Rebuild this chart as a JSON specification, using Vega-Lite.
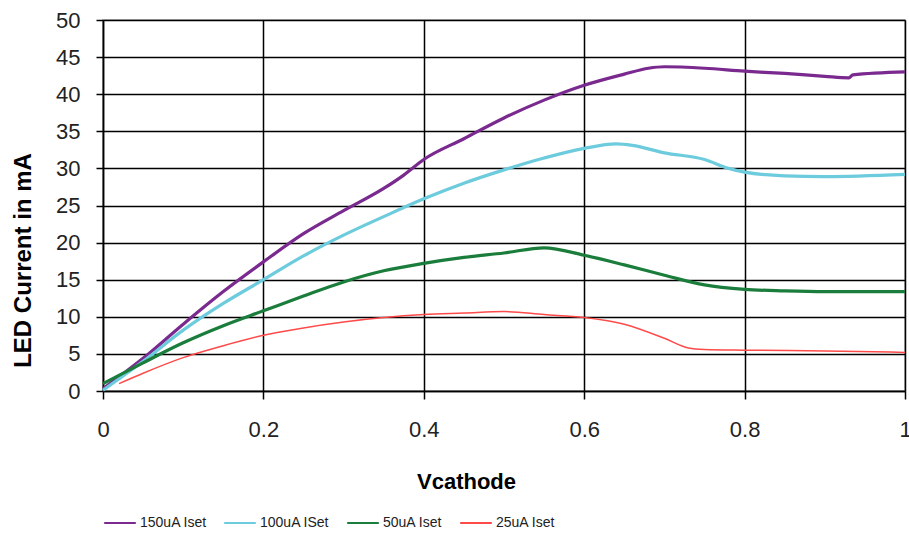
{
  "$schema": "https://vega.github.io/schema/vega-lite/v6.json",
  "width": 802,
  "height": 371,
  "autosize": {"type": "none"},
  "padding": {"left": 103, "top": 20, "right": 4, "bottom": 144},
  "background": "white",
  "config": {
    "font": "Liberation Sans",
    "view": {"stroke": "#a0a0a0", "strokeWidth": 1.5}
  },
  "data": {
    "values": [
      {"s": "150uA Iset", "v": 0, "i": 0.3},
      {"s": "150uA Iset", "v": 0.05, "i": 4.4},
      {"s": "150uA Iset", "v": 0.1, "i": 9.0},
      {"s": "150uA Iset", "v": 0.15, "i": 13.4},
      {"s": "150uA Iset", "v": 0.2, "i": 17.4},
      {"s": "150uA Iset", "v": 0.25, "i": 21.2},
      {"s": "150uA Iset", "v": 0.3, "i": 24.3},
      {"s": "150uA Iset", "v": 0.35, "i": 27.3},
      {"s": "150uA Iset", "v": 0.375, "i": 29.1},
      {"s": "150uA Iset", "v": 0.4, "i": 31.2},
      {"s": "150uA Iset", "v": 0.45, "i": 34.0},
      {"s": "150uA Iset", "v": 0.5, "i": 36.8},
      {"s": "150uA Iset", "v": 0.55, "i": 39.2},
      {"s": "150uA Iset", "v": 0.6, "i": 41.2},
      {"s": "150uA Iset", "v": 0.65, "i": 42.7},
      {"s": "150uA Iset", "v": 0.68, "i": 43.5},
      {"s": "150uA Iset", "v": 0.7, "i": 43.7},
      {"s": "150uA Iset", "v": 0.75, "i": 43.5},
      {"s": "150uA Iset", "v": 0.8, "i": 43.1},
      {"s": "150uA Iset", "v": 0.85, "i": 42.8},
      {"s": "150uA Iset", "v": 0.9, "i": 42.4},
      {"s": "150uA Iset", "v": 0.93, "i": 42.2},
      {"s": "150uA Iset", "v": 0.935, "i": 42.6},
      {"s": "150uA Iset", "v": 1.0, "i": 43.0},
      {"s": "100uA ISet", "v": 0, "i": 0.1},
      {"s": "100uA ISet", "v": 0.05, "i": 4.0},
      {"s": "100uA ISet", "v": 0.1, "i": 8.2},
      {"s": "100uA ISet", "v": 0.15, "i": 11.8},
      {"s": "100uA ISet", "v": 0.2, "i": 15.0},
      {"s": "100uA ISet", "v": 0.25, "i": 18.2},
      {"s": "100uA ISet", "v": 0.3, "i": 21.0},
      {"s": "100uA ISet", "v": 0.35, "i": 23.5},
      {"s": "100uA ISet", "v": 0.4, "i": 25.9},
      {"s": "100uA ISet", "v": 0.45, "i": 28.0},
      {"s": "100uA ISet", "v": 0.5, "i": 29.8},
      {"s": "100uA ISet", "v": 0.55, "i": 31.4},
      {"s": "100uA ISet", "v": 0.6, "i": 32.7},
      {"s": "100uA ISet", "v": 0.64, "i": 33.3},
      {"s": "100uA ISet", "v": 0.66, "i": 33.1},
      {"s": "100uA ISet", "v": 0.7, "i": 32.1},
      {"s": "100uA ISet", "v": 0.75, "i": 31.2},
      {"s": "100uA ISet", "v": 0.78, "i": 30.0},
      {"s": "100uA ISet", "v": 0.8, "i": 29.5},
      {"s": "100uA ISet", "v": 0.85, "i": 29.0},
      {"s": "100uA ISet", "v": 0.9, "i": 28.9},
      {"s": "100uA ISet", "v": 1.0, "i": 29.2},
      {"s": "50uA Iset", "v": 0, "i": 1.0},
      {"s": "50uA Iset", "v": 0.05, "i": 3.8},
      {"s": "50uA Iset", "v": 0.1, "i": 6.5},
      {"s": "50uA Iset", "v": 0.15, "i": 8.8},
      {"s": "50uA Iset", "v": 0.2, "i": 10.8},
      {"s": "50uA Iset", "v": 0.25, "i": 12.8},
      {"s": "50uA Iset", "v": 0.3, "i": 14.7},
      {"s": "50uA Iset", "v": 0.35, "i": 16.2},
      {"s": "50uA Iset", "v": 0.4, "i": 17.2},
      {"s": "50uA Iset", "v": 0.45, "i": 18.0},
      {"s": "50uA Iset", "v": 0.5, "i": 18.6},
      {"s": "50uA Iset", "v": 0.55, "i": 19.3},
      {"s": "50uA Iset", "v": 0.6, "i": 18.3},
      {"s": "50uA Iset", "v": 0.65, "i": 17.0},
      {"s": "50uA Iset", "v": 0.7, "i": 15.6},
      {"s": "50uA Iset", "v": 0.75, "i": 14.3},
      {"s": "50uA Iset", "v": 0.8, "i": 13.7},
      {"s": "50uA Iset", "v": 0.85, "i": 13.5},
      {"s": "50uA Iset", "v": 0.9, "i": 13.4},
      {"s": "50uA Iset", "v": 1.0, "i": 13.4},
      {"s": "25uA Iset", "v": 0.02, "i": 1.0},
      {"s": "25uA Iset", "v": 0.05, "i": 2.4},
      {"s": "25uA Iset", "v": 0.1, "i": 4.5},
      {"s": "25uA Iset", "v": 0.15, "i": 6.1},
      {"s": "25uA Iset", "v": 0.2, "i": 7.5},
      {"s": "25uA Iset", "v": 0.25, "i": 8.5},
      {"s": "25uA Iset", "v": 0.3, "i": 9.3},
      {"s": "25uA Iset", "v": 0.35, "i": 9.9},
      {"s": "25uA Iset", "v": 0.4, "i": 10.3},
      {"s": "25uA Iset", "v": 0.45, "i": 10.5},
      {"s": "25uA Iset", "v": 0.5, "i": 10.7},
      {"s": "25uA Iset", "v": 0.55, "i": 10.3},
      {"s": "25uA Iset", "v": 0.6, "i": 9.9},
      {"s": "25uA Iset", "v": 0.65, "i": 9.0},
      {"s": "25uA Iset", "v": 0.7, "i": 7.1},
      {"s": "25uA Iset", "v": 0.73, "i": 5.8},
      {"s": "25uA Iset", "v": 0.75, "i": 5.6},
      {"s": "25uA Iset", "v": 0.8, "i": 5.5},
      {"s": "25uA Iset", "v": 0.9, "i": 5.4},
      {"s": "25uA Iset", "v": 1.0, "i": 5.2}
    ]
  },
  "encoding": {
    "x": {
      "field": "v",
      "type": "quantitative",
      "scale": {"domain": [0, 1], "nice": false},
      "axis": {
        "title": "Vcathode",
        "values": [0, 0.2, 0.4, 0.6, 0.8, 1],
        "format": "~g",
        "grid": true,
        "gridColor": "#000000",
        "gridOpacity": 1,
        "gridWidth": 1.5,
        "domainColor": "#000000",
        "domainWidth": 1.5,
        "tickColor": "#000000",
        "tickSize": 8,
        "tickWidth": 1.5,
        "labelFontSize": 22,
        "labelColor": "#222222",
        "labelPadding": 20,
        "labelFlush": false,
        "titleFontSize": 22,
        "titleFontWeight": "bold",
        "titleColor": "#000000",
        "titlePadding": 31,
        "titleX": 363
      }
    },
    "y": {
      "field": "i",
      "type": "quantitative",
      "scale": {"domain": [0, 50], "nice": false},
      "axis": {
        "title": "LED Current in mA",
        "values": [0, 5, 10, 15, 20, 25, 30, 35, 40, 45, 50],
        "grid": true,
        "gridColor": "#000000",
        "gridOpacity": 1,
        "gridWidth": 1.5,
        "domainColor": "#000000",
        "domainWidth": 1.5,
        "tickColor": "#000000",
        "tickSize": 7,
        "tickWidth": 1.5,
        "labelFontSize": 22,
        "labelColor": "#222222",
        "labelPadding": 16,
        "titleFontSize": 24,
        "titleFontWeight": "bold",
        "titleColor": "#000000",
        "titlePadding": 20,
        "titleY": 240
      }
    },
    "color": {
      "field": "s",
      "type": "nominal",
      "sort": ["150uA Iset", "100uA ISet", "50uA Iset", "25uA Iset"],
      "scale": {
        "domain": ["150uA Iset", "100uA ISet", "50uA Iset", "25uA Iset"],
        "range": ["#7a2a8f", "#6ccbdc", "#1b7d3b", "#ff4a4a"]
      },
      "legend": {
        "title": null,
        "orient": "none",
        "legendX": 0,
        "legendY": 486,
        "direction": "horizontal",
        "symbolType": "stroke",
        "symbolSize": 1000,
        "symbolStrokeWidth": 2,
        "labelFontSize": 14,
        "labelColor": "#222222",
        "labelOffset": 3,
        "columnPadding": 13
      }
    }
  },
  "layer": [
    {
      "transform": [{"filter": "datum.s !== '25uA Iset'"}],
      "mark": {"type": "line", "interpolate": "monotone", "strokeWidth": 3.2}
    },
    {
      "transform": [{"filter": "datum.s === '25uA Iset'"}],
      "mark": {"type": "line", "interpolate": "monotone", "strokeWidth": 1.5}
    }
  ]
}
